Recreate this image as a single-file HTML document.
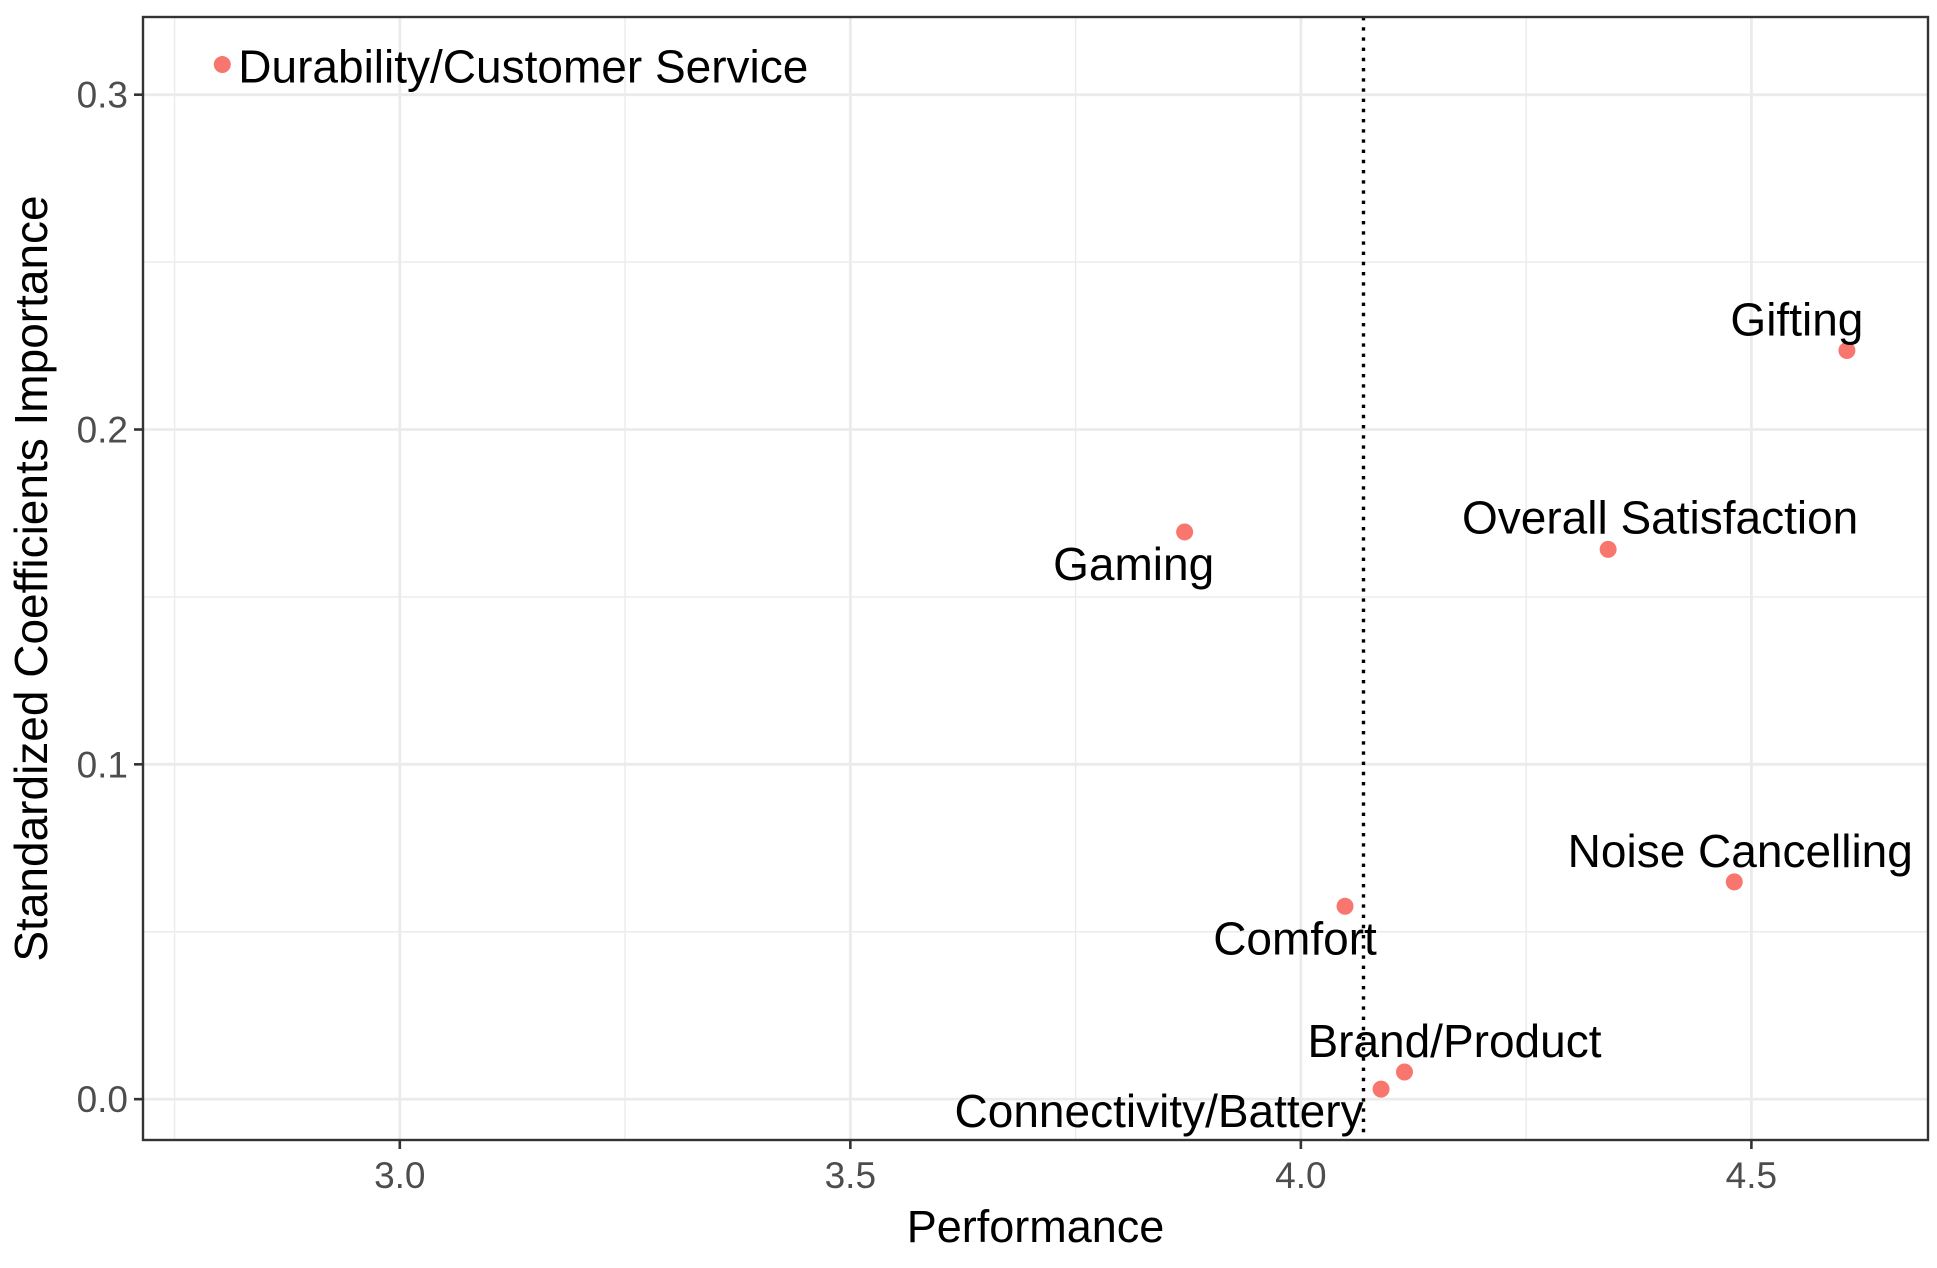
<!DOCTYPE html>
<html><head><meta charset="utf-8"><style>
html,body{margin:0;padding:0;background:#fff;}
svg{display:block;font-family:"Liberation Sans",Arial,sans-serif;}
</style></head><body>
<svg id="chart" width="1937" height="1268" viewBox="0 0 1937 1268"></svg>
<script>
const labels = ["Durability/Customer Service","Gifting","Overall Satisfaction","Gaming","Noise Cancelling","Comfort","Brand/Product","Connectivity/Battery"];
const perfValues = [2.803,4.606,4.341,3.871,4.481,4.049,4.115,4.089];
const importanceValues = [0.309,0.2236,0.1642,0.1694,0.0649,0.0576,0.0081,0.003];
const xTicks = [3.0,3.5,4.0,4.5];
const xTickLabels = ["3.0","3.5","4.0","4.5"];
const yTicks = [0.0,0.1,0.2,0.3];
const yTickLabels = ["0.0","0.1","0.2","0.3"];
const xMinor = [2.75,3.25,3.75,4.25];
const yMinor = [0.05,0.15,0.25];
const refLine = 4.0695;
// label offsets (px) relative to point: [dx, dy, anchor]
const labelOffsets = [[16,18,"start"],[-50,-15,"middle"],[52,-16,"middle"],[-51,48,"middle"],[6,-15,"middle"],[-50,48,"middle"],[50,-15,"middle"],[-222,38,"middle"]];

const L=143,R=1928,T=17,B=1140;
const xMin=2.715,xMax=4.696,yMin=-0.0122,yMax=0.3232;
const xs=v=>L+(v-xMin)/(xMax-xMin)*(R-L);
const ys=v=>B-(v-yMin)/(yMax-yMin)*(B-T);
const svg=document.getElementById('chart');
const NS='http://www.w3.org/2000/svg';
function mk(tag,attrs,parent){const e=document.createElementNS(NS,tag);for(const k in attrs)e.setAttribute(k,attrs[k]);(parent||svg).appendChild(e);return e;}

const grid=mk('g',{});


xMinor.forEach(v=>{const l=mk('line',{x1:xs(v),x2:xs(v),y1:T,y2:B,stroke:'#ebebeb','stroke-width':1.4},grid);});
yMinor.forEach(v=>{const l=mk('line',{x1:L,x2:R,y1:ys(v),y2:ys(v),stroke:'#ebebeb','stroke-width':1.4},grid);});
xTicks.forEach(v=>{const l=mk('line',{x1:xs(v),x2:xs(v),y1:T,y2:B,stroke:'#ebebeb','stroke-width':2.8},grid);});
yTicks.forEach(v=>{const l=mk('line',{x1:L,x2:R,y1:ys(v),y2:ys(v),stroke:'#ebebeb','stroke-width':2.8},grid);});

const vl=mk('line',{x1:xs(refLine),x2:xs(refLine),y1:T,y2:B,stroke:'#000','stroke-width':3.4,'stroke-dasharray':'3.4 6.8'});



perfValues.forEach((v,i)=>{
  const cx=xs(v),cy=ys(importanceValues[i]);
  const c=mk('circle',{cx:cx,cy:cy,r:8.5,fill:'#F8766D'});
  
  
  const o=labelOffsets[i];
  const t=mk('text',{x:cx+o[0],y:cy+o[1],'text-anchor':o[2],'font-size':46,fill:'#000'});
  t.textContent=labels[i];
  
  
});

const frame=mk('rect',{x:L,y:T,width:R-L,height:B-T,fill:'none',stroke:'#333','stroke-width':2.4});



xTicks.forEach((v,i)=>{
  const tk=mk('line',{x1:xs(v),x2:xs(v),y1:B,y2:B+9,stroke:'#333','stroke-width':2.6});
  
  
  const t=mk('text',{x:xs(v),y:B+48,'text-anchor':'middle','font-size':37,fill:'#4d4d4d'});
  t.textContent=xTickLabels[i];
  
  
});
yTicks.forEach((v,i)=>{
  const tk=mk('line',{x1:L-9,x2:L,y1:ys(v),y2:ys(v),stroke:'#333','stroke-width':2.6});
  
  
  const t=mk('text',{x:L-15,y:ys(v)+13,'text-anchor':'end','font-size':37,fill:'#4d4d4d'});
  t.textContent=yTickLabels[i];
  
  
});
const xt=mk('text',{x:(L+R)/2,y:1242,'text-anchor':'middle','font-size':45,fill:'#000'});
xt.textContent='Performance';


const yt=mk('text',{x:0,y:0,'text-anchor':'middle','font-size':46,fill:'#000',transform:'translate(47,'+((T+B)/2)+') rotate(-90)'});
yt.textContent='Standardized Coefficients Importance';


</script>
</body></html>
